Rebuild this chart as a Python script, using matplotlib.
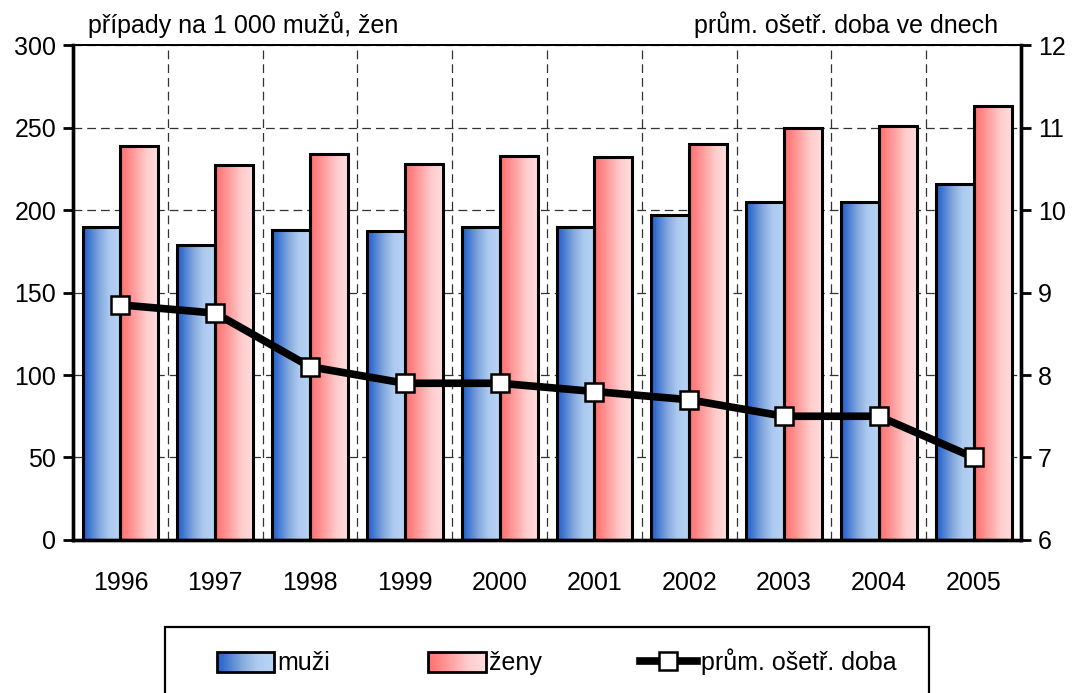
"""Bar chart (cases per 1000 men/women) with average treatment length on a second axis."""

import numpy as np
import matplotlib
matplotlib.use("Agg")
import matplotlib.pyplot as plt
from matplotlib.colors import LinearSegmentedColormap
from matplotlib.legend_handler import HandlerBase
from matplotlib.patches import Rectangle
from matplotlib.lines import Line2D

years = ["1996", "1997", "1998", "1999", "2000", "2001", "2002", "2003", "2004", "2005"]
muzi = [190, 179, 188, 187, 190, 190, 197, 205, 205, 216]
zeny = [239, 227, 234, 228, 233, 232, 240, 250, 251, 263]
doba = [8.85, 8.75, 8.1, 7.9, 7.9, 7.8, 7.7, 7.5, 7.5, 7.0]

plt.rcParams["font.family"] = ["Liberation Sans Narrow", "Liberation Sans", "DejaVu Sans"]
plt.rcParams["font.size"] = 18

blue = LinearSegmentedColormap.from_list(
    "b", [(0, "#1c5cc8"), (0.2, "#4a7ed4"), (0.45, "#86aade"), (0.7, "#adcaef"), (1, "#b8d4f4")])
red = LinearSegmentedColormap.from_list(
    "r", [(0, "#ff6e6e"), (0.2, "#ff8686"), (0.45, "#ffa8a8"), (0.7, "#ffcccc"), (1, "#ffdcdc")])
grad = np.linspace(0, 1, 256).reshape(1, -1)


class GradHandler(HandlerBase):
    def __init__(self, cmap):
        super().__init__()
        self.cmap = cmap

    def create_artists(self, legend, orig_handle, xdescent, ydescent, width, height, fontsize, trans):
        n = 30
        arts = []
        for i in range(n):
            arts.append(Rectangle((-xdescent + i * width / n, -ydescent), width / n + 0.3, height,
                                  facecolor=self.cmap((i + 0.5) / n), edgecolor="none", transform=trans))
        arts.append(Rectangle((-xdescent, -ydescent), width, height, facecolor="none",
                              edgecolor="black", lw=2, transform=trans))
        return arts


fig = plt.figure(figsize=(10.74, 6.93), dpi=100)
ax = fig.add_axes([0.068, 0.2208, 0.8827, 0.7142])
x = np.arange(len(years))
w = 0.4

for xi, m, z in zip(x, muzi, zeny):
    ax.imshow(grad, extent=[xi - w, xi, 0, m], aspect="auto", cmap=blue, zorder=2)
    ax.imshow(grad, extent=[xi, xi + w, 0, z], aspect="auto", cmap=red, zorder=2)
ax.bar(x - w / 2, muzi, w, fill=False, edgecolor="black", lw=2.2, zorder=3)
ax.bar(x + w / 2, zeny, w, fill=False, edgecolor="black", lw=2.2, zorder=3)

ax.set_xlim(-0.5, len(years) - 0.5)
ax.set_ylim(0, 300)
ax.set_yticks(range(0, 301, 50))
ax.set_xticks(x)
ax.set_xticklabels(years)
ax.set_xticks(x[:-1] + 0.5, minor=True)
ax.tick_params(axis="x", which="both", length=0, pad=22)
ax.tick_params(axis="y", length=7, width=2, direction="out", pad=5)
ax.grid(axis="y", which="major", ls=(0, (7, 4)), color="#333", lw=0.9, zorder=0)
ax.grid(axis="x", which="minor", ls=(0, (7, 4)), color="#333", lw=0.9, zorder=0)
ax.set_axisbelow(True)
for s in ["left", "right", "bottom"]:
    ax.spines[s].set_linewidth(2.4)
ax.spines["top"].set_linewidth(1.3)

ax2 = ax.twinx()
ax2.plot(x, doba, color="black", lw=5.5, marker="s", ms=13.5, mfc="white", mec="black", mew=1.8, zorder=5)
ax2.set_ylim(6, 12)
ax2.set_yticks(range(6, 13))
ax2.tick_params(axis="y", length=7, width=2, direction="out", pad=5)
for s in ["left", "right", "bottom"]:
    ax2.spines[s].set_linewidth(2.4)
ax2.spines["top"].set_linewidth(1.3)

fig.text(88 / 1074, 1 - 25 / 693, "případy na 1 000 mužů, žen", ha="left", va="center")
fig.text(998 / 1074, 1 - 25 / 693, "prům. ošetř. doba ve dnech", ha="right", va="center")

h_m = Rectangle((0, 0), 1, 1)
h_z = Rectangle((0, 0), 1, 1)
h_d = Line2D([], [], color="black", lw=5.5, marker="s", ms=13.5, mfc="white", mec="black", mew=1.8)
fig.legend([h_m, h_z, h_d], ["muži", "ženy", "prům. ošetř. doba"],
           handler_map={h_m: GradHandler(blue), h_z: GradHandler(red)},
           loc="center left", bbox_to_anchor=(204 / 1074, 1 - 662 / 693), ncol=3, frameon=False,
           borderpad=0, handlelength=2.3, handleheight=0.85, handletextpad=0.15, columnspacing=3.9)
fig.patches.append(Rectangle((165 / 1074, -0.05), (929 - 165) / 1074, 0.05 + (1 - 627 / 693),
                             transform=fig.transFigure, fill=False, edgecolor="black", lw=1.6))

fig.savefig("out.png", dpi=100)
